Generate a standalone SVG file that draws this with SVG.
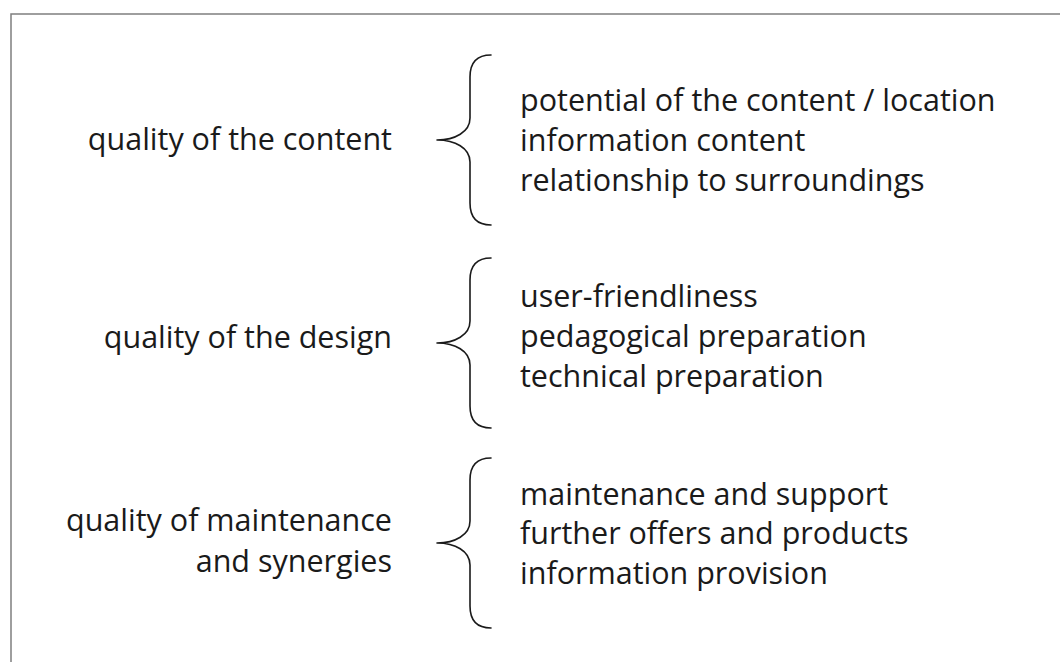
<svg xmlns="http://www.w3.org/2000/svg" width="1060" height="662" viewBox="0 0 1060 662">
  <defs>
    <style>
      .frame { fill: none; stroke: #7f7f7f; stroke-width: 1.5; }
      .brace { fill: none; stroke: #1a1a1a; stroke-width: 1.6; stroke-linecap: round; stroke-linejoin: round; }
      .lbl { font-family: "Open Sans", "Liberation Sans", sans-serif; font-weight: 400; font-size: 30.5px; fill: #1a1a1a; }
      .head { text-anchor: end; }
    </style>
  </defs>
  <rect width="1060" height="662" fill="#ffffff"/>
  <!-- open frame: only the left and top edges are inside the canvas -->
  <path class="frame" d="M11,662 V14 H1060"/>

  <g id="connectors">
    <path class="brace" d="M491,55 C478,55 470,62 470,77 V118 C470,132 455,140 437,140 C455,140 470,148 470,162 V203 C470,218 478,225 491,225"/>
    <path class="brace" d="M491,258 C478,258 470,265 470,280 V321 C470,335 455,343 437,343 C455,343 470,351 470,365 V406 C470,421 478,428 491,428"/>
    <path class="brace" d="M491,458 C478,458 470,465 470,480 V521 C470,535 455,543 437,543 C455,543 470,551 470,565 V606 C470,621 478,628 491,628"/>
  </g>

  <g id="content-quality">
    <text class="lbl head" x="392" y="150">quality of the content</text>
    <text class="lbl" x="520" y="111">potential of the content / location</text>
    <text class="lbl" x="520" y="151">information content</text>
    <text class="lbl" x="520" y="191">relationship to surroundings</text>
  </g>

  <g id="design-quality">
    <text class="lbl head" x="392" y="348">quality of the design</text>
    <text class="lbl" x="520" y="307">user-friendliness</text>
    <text class="lbl" x="520" y="347">pedagogical preparation</text>
    <text class="lbl" x="520" y="387">technical preparation</text>
  </g>

  <g id="maintenance-quality">
    <text class="lbl head" x="392" y="531">quality of maintenance</text>
    <text class="lbl head" x="392" y="572">and synergies</text>
    <text class="lbl" x="520" y="505">maintenance and support</text>
    <text class="lbl" x="520" y="544">further offers and products</text>
    <text class="lbl" x="520" y="584">information provision</text>
  </g>
</svg>
